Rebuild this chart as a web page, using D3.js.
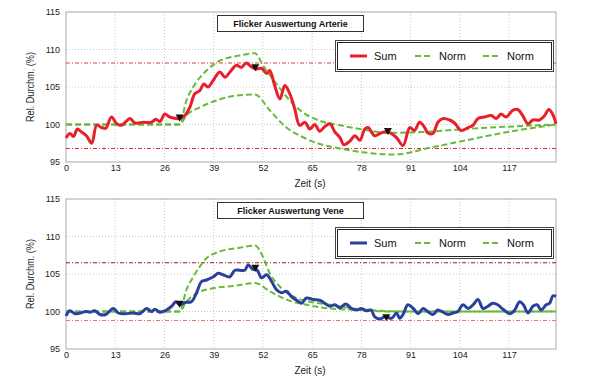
<!DOCTYPE html>
<html>
<head>
<meta charset="utf-8">
<script src="https://cdn.jsdelivr.net/npm/d3@7"></script>
<style>
  body { margin: 0; background: #fff; }
  text { font-family: "Liberation Sans", Arial, sans-serif; }
  .grid line { stroke: #c8c8c8; stroke-dasharray: 1,2; }
  .axis path, .axis line { display: none; }
  .axis text { font-size: 9px; fill: #222; }
</style>
</head>
<body>
<div id="chart"></div>
<script>
var xTicks = [0, 13, 26, 39, 52, 65, 78, 91, 104, 117];
var yTicks = [95, 100, 105, 110, 115];
var legendNames = ["Sum", "Norm", "Norm"];

// Arterie
var arterieSum = [[0,98.2],[1,98.8],[2,98.4],[3,99.4],[4.1,99],[5.4,98.5],[6.8,97.5],[8.1,99.9],[9.4,99.6],[10.5,99.5],
  [12,101],[13.4,100.1],[14.7,99.9],[16.9,100.8],[18.2,100.2],[20.4,100.3],[22.6,100.3],[23.7,100.7],[24.8,100.4],
  [26.1,101.4],[27.4,101],[30.1,100.8],[31.4,101.2],[32.7,102.3],[34,104.1],[35.3,104.5],[36.4,105.4],[37.5,105],
  [38.9,105.9],[40.6,107],[42,106.3],[43.3,107],[45,107.9],[46.3,107.6],[47.6,108.2],[48.9,107.7],[50.1,107.4],
  [51.6,107.5],[53,106.8],[53.8,107.2],[55.1,105.2],[56.5,103.4],[57.8,105.2],[59.1,104.1],[60.4,102.1],[61.7,99.9],
  [63.1,100.3],[64.4,99.4],[65.7,100],[67,99.1],[68.3,99.7],[69.7,100.1],[71,99],[72.3,98.3],[73.4,97.3],[75,97.8],
  [76.3,98.5],[77.6,97.9],[78.9,99.4],[79.8,99.6],[81.5,98.5],[83.3,98.9],[85,99],[87.2,98.3],[89,97.2],[90.8,99.6],
  [92,99.2],[93.4,100.3],[94.7,99.6],[95.5,98.9],[96.9,98.8],[98.2,100.3],[99.6,100.8],[101.3,100.6],[102.6,100.2],
  [104.4,99.2],[106.2,99.6],[107.5,99.9],[108.8,100.8],[110.5,101],[112.3,101.2],[113.6,100.8],[114.9,101.4],
  [116.2,101],[118,101.9],[119.3,102],[120.6,101.2],[122,100.1],[123.3,100.6],[125,100.6],[126.4,101.2],[127.5,102],
  [128.5,101.4],[129.4,100.1]];
var arterieNormHigh = [[0,100],[30,100],[31.8,103.2],[33.6,105],[37.1,107.2],[40.6,108.5],[45.9,109.2],[49.9,109.5],
  [52,107.9],[55.6,105.4],[59.1,103.2],[62.6,101.6],[67,100.5],[72.3,99.9],[77.6,99.4],[85.5,98.9],[94.3,99],
  [103,99.3],[111.9,99.6],[120.7,99.8],[129.4,100]];
var arterieNormLow = [[0,100],[30,100],[31.8,101.2],[35.4,102.3],[39.7,103.2],[44.1,103.8],[49.9,104],[53.8,101.9],
  [58.2,99.6],[62.6,98.3],[67,97.4],[72.3,96.8],[78.4,96.3],[86.4,96],[97,97],[105.7,97.9],[114.5,98.8],[129.4,100]];
var arterieMarks = [[30,100.8],[50,107.5],[85,99]];
var arterieLimits = [108.2, 96.8];

// Vene
var veneSum = [[0,99.4],[1,100.1],[2.4,99.7],[3.7,99.8],[5.3,100],[6.3,99.9],[7.6,100.1],[9,99.6],[10.5,99.6],
  [12.5,100.4],[13.8,99.8],[15.6,99.7],[17.8,99.8],[19.5,99.7],[21.3,100.4],[22.6,100],[23.5,100.3],[24.8,99.9],
  [26.5,100.2],[27.9,100.7],[29,101.3],[30,100.9],[31.4,101.2],[33.1,101.3],[34.4,102.4],[35.8,104],[37.1,104.2],
  [38.8,104.6],[40.2,105.1],[41.5,104.9],[43.2,104.6],[44.6,105.5],[45.9,105.5],[47.2,105.5],[48.1,106.2],[49.4,105.6],
  [50.5,105.5],[51.6,104.5],[53,104.9],[54.3,104],[55.6,102.9],[56.9,102.5],[58.2,102.7],[59.5,102],[60.9,101.5],
  [62.2,101.1],[63.5,101.8],[65.3,101.6],[67,101.5],[68.3,101.1],[69.7,100.7],[71,100.9],[72.3,100.5],[73.9,101],
  [75.4,100.4],[76.7,100.2],[78,100.4],[79.3,100.1],[80.6,100.2],[81.5,99.3],[82.8,99],[84.2,99.3],[86,99.1],
  [87.3,99.8],[88.1,99.1],[89,99.6],[90.3,100.9],[91.7,100.4],[93,99.7],[94.3,100.4],[95.5,100],[96.9,99.6],
  [98.2,100.2],[99.6,99.9],[100.9,99.6],[102.2,99.8],[103.5,100],[104.8,100.9],[106.2,100.4],[107.5,100.9],
  [108.8,101.6],[110.1,100.4],[111.4,100.7],[112.7,101.1],[114,100.9],[115.4,100.3],[117.2,99.7],[118.5,100.2],
  [119.8,101.3],[120.8,100.9],[122,99.8],[123.3,100.7],[124.4,100.9],[125.5,100.2],[126.8,100.9],[127.7,101.1],
  [128.6,102.1],[129.4,102]];
var veneNormHigh = [[0,100],[30,100],[31.8,102.9],[33.6,104.6],[37.1,107.1],[40.6,108],[45.9,108.5],[49.9,108.8],
  [52,107.3],[53.8,105.1],[56.5,103.3],[60,102],[64.4,101.3],[69.7,100.9],[75.8,100.4],[82.8,100.1],[90,100],[129.4,100]];
var veneNormLow = [[0,100],[30,100],[31.8,101.3],[34.4,102.4],[38.8,103.1],[44.1,103.4],[49.9,103.8],[53.8,102.7],
  [58.2,101.6],[63.5,100.9],[69.7,100.4],[77.6,100.2],[85,100],[129.4,100]];
var veneMarks = [[30,100.9],[50,105.7],[84.6,99.1]];
var veneLimits = [106.5, 98.8];

var W = 600, H = 385;
var svg = d3.select("#chart").append("svg").attr("width", W).attr("height", H);

var x = d3.scaleLinear().domain([0, 129.4]).range([66, 556]);

function panel(top, title, sum, high, low, marks, limits, sumColor, limitColors) {
    var y = d3.scaleLinear().domain([95, 115]).range([top + 150, top]);
    var g = svg.append("g");

    // grid
    var grid = g.append("g").attr("class", "grid");
    grid.selectAll(".vx").data(xTicks.slice(1)).enter().append("line")
        .attr("x1", function(d) { return x(d); }).attr("x2", function(d) { return x(d); })
        .attr("y1", y(115)).attr("y2", y(95));
    grid.selectAll(".hy").data([100, 105, 110]).enter().append("line")
        .attr("x1", x(0)).attr("x2", x(129.4))
        .attr("y1", function(d) { return y(d); }).attr("y2", function(d) { return y(d); });

    // frame
    g.append("rect").attr("x", x(0)).attr("y", y(115))
        .attr("width", x(129.4) - x(0)).attr("height", y(95) - y(115))
        .attr("fill", "none").attr("stroke", "#a8a8a8").attr("stroke-width", 1);

    // limits
    limits.forEach(function(v, i) {
        g.append("line").attr("x1", x(0)).attr("x2", x(129.4))
            .attr("y1", y(v)).attr("y2", y(v))
            .attr("stroke", limitColors[i]).attr("stroke-width", 1)
            .attr("stroke-dasharray", "4,2,1,2");
    });

    var line = d3.line()
        .x(function(d) { return x(d[0]); })
        .y(function(d) { return y(d[1]); })
        .curve(d3.curveCatmullRom);

    var normLine = d3.line()
        .x(function(d) { return x(d[0]); })
        .y(function(d) { return y(d[1]); })
        .curve(d3.curveMonotoneX);

    [high, low].forEach(function(s) {
        g.append("path").datum(s).attr("d", normLine)
            .attr("fill", "none").attr("stroke", "#66bb3a")
            .attr("stroke-width", 2).attr("stroke-dasharray", "6,3");
    });

    g.append("path").datum(sum).attr("d", line)
        .attr("fill", "none").attr("stroke", sumColor)
        .attr("stroke-width", 3).attr("stroke-linejoin", "round");

    g.selectAll(".mark").data(marks).enter().append("path")
        .attr("d", "M-4,-4L4,-4L0,3Z")
        .attr("transform", function(d) { return "translate(" + x(d[0]) + "," + y(d[1]) + ")"; })
        .attr("fill", "#111");

    // axes
    var xAxis = d3.axisBottom(x).tickValues(xTicks).tickSize(0).tickPadding(3);
    g.append("g").attr("class", "axis")
        .attr("transform", "translate(0," + y(95) + ")")
        .call(xAxis);
    var yAxis = d3.axisLeft(y).tickValues(yTicks).tickSize(0).tickPadding(6);
    g.append("g").attr("class", "axis")
        .attr("transform", "translate(" + x(0) + ",0)")
        .call(yAxis);

    g.append("text").attr("x", 310).attr("y", y(95) + 25)
        .attr("text-anchor", "middle").style("font-size", "10px").style("fill", "#222")
        .text("Zeit (s)");
    g.append("text")
        .attr("transform", "translate(34," + (y(105) + 0) + ") rotate(-90)")
        .attr("text-anchor", "middle").style("font-size", "11px").style("fill", "#222")
        .attr("textLength", 70).attr("lengthAdjust", "spacingAndGlyphs")
        .text("Rel. Durchm. (%)");

    // title box
    g.append("rect").attr("x", 217.5).attr("y", top + 3.5).attr("width", 146).attr("height", 16)
        .attr("fill", "#fff").attr("stroke", "#333").attr("stroke-width", 1);
    g.append("text").attr("x", 290.5).attr("y", top + 14.5).attr("text-anchor", "middle")
        .style("font-size", "9px").style("font-weight", "bold").style("fill", "#111")
        .text(title);

    // legend
    var lg = g.append("g").attr("transform", "translate(335," + (top + 28) + ")");
    lg.append("rect").attr("x", 0.5).attr("y", 0.5).attr("width", 218).attr("height", 31)
        .attr("fill", "#fff").attr("stroke", "#444").attr("stroke-width", 1);
    lg.append("rect").attr("x", 2.5).attr("y", 2.5).attr("width", 214).attr("height", 27)
        .attr("fill", "none").attr("stroke", "#222").attr("stroke-width", 1);
    var items = [
        { x: 15, color: sumColor, dash: null, w: 3 },
        { x: 80, color: "#66bb3a", dash: "6,3", w: 2 },
        { x: 148, color: "#66bb3a", dash: "6,3", w: 2 }
    ];
    items.forEach(function(it, i) {
        lg.append("line").attr("x1", it.x).attr("x2", it.x + 17)
            .attr("y1", 16).attr("y2", 16)
            .attr("stroke", it.color).attr("stroke-width", it.w)
            .attr("stroke-dasharray", it.dash);
        lg.append("text").attr("x", it.x + 24).attr("y", 20)
            .style("font-size", "11px").style("fill", "#111")
            .text(legendNames[i]);
    });
}

panel(12, "Flicker Auswertung Arterie", arterieSum, arterieNormHigh, arterieNormLow, arterieMarks,
      arterieLimits, "#e8202a", ["#e04040", "#d83030"]);
panel(199, "Flicker Auswertung Vene", veneSum, veneNormHigh, veneNormLow, veneMarks,
      veneLimits, "#2b3f9c", ["#a01818", "#f07070"]);
</script>
</body>
</html>
